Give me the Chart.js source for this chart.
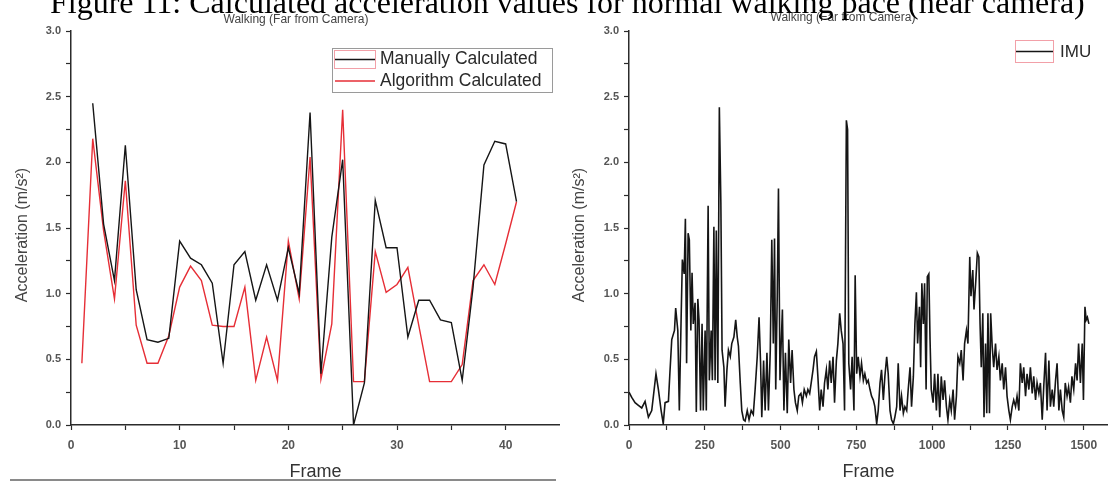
<!DOCTYPE html>
<html><head><meta charset="utf-8">
<script src="https://cdn.jsdelivr.net/npm/chart.js@4.4.1/dist/chart.umd.min.js"></script>
<style>
html,body{margin:0;padding:0;background:#fff;}
body{width:1108px;height:483px;position:relative;overflow:hidden;}
canvas{position:absolute;top:0;}
#c1{left:0;width:560px;height:483px;}
#c2{left:560px;width:548px;height:483px;}
#cap{left:0;width:1108px;height:24px;z-index:3;pointer-events:none;}
</style></head><body>
<canvas id="c1" width="560" height="483"></canvas>
<canvas id="c2" width="548" height="483"></canvas>
<canvas id="cap" width="1108" height="24"></canvas>
<script>
// ---------- text ----------
const captionText = 'Figure 11: Calculated acceleration values for normal walking pace (near camera)';
const chartTitle = 'Walking (Far from Camera)';
const yTitle = 'Acceleration (m/s\u00B2)';
const xTitle = 'Frame';
const leftLegend = ['Manually Calculated', 'Algorithm Calculated'];
const rightLegend = ['IMU'];

// ---------- left chart data ----------
const frames = [1,2,3,4,5,6,7,8,9,10,11,12,13,14,15,16,17,18,19,20,21,22,23,24,25,26,27,28,29,30,31,32,33,34,35,36,37,38,39,40,41];
const manual = [null,2.45,1.53,1.10,2.13,1.03,0.65,0.63,0.66,1.40,1.27,1.22,1.08,0.47,1.22,1.32,0.95,1.22,0.95,1.35,1.00,2.38,0.39,1.43,2.02,0.00,0.32,1.71,1.35,1.35,0.67,0.95,0.95,0.80,0.78,0.34,1.05,1.98,2.16,2.14,1.70];
const algorithm = [0.47,2.18,1.48,0.96,1.86,0.76,0.47,0.47,0.68,1.05,1.21,1.10,0.76,0.75,0.75,1.05,0.34,0.67,0.34,1.40,0.96,2.04,0.35,0.77,2.40,0.33,0.33,1.32,1.01,1.07,1.20,0.76,0.33,0.33,0.33,0.46,1.10,1.22,1.07,1.38,1.70];
const leftXTicks = [0,5,10,15,20,25,30,35,40];

// ---------- right chart data ----------
const imuFrames = [
0,9,20,31,42,53,64,75,89,97,
106,113,119,130,135,141,150,154,161,166,
172,176,182,186,190,195,199,204,208,212,
218,222,227,231,236,241,245,251,255,261,
265,271,275,280,284,288,293,298,303,307,
313,317,323,328,334,339,346,352,357,361,
367,372,378,383,390,396,403,410,416,423,
429,434,438,444,449,455,460,466,471,476,
480,484,489,493,498,502,506,511,516,522,
527,533,538,544,549,555,560,567,572,578,
585,590,596,601,607,612,618,623,629,634,
640,645,651,656,662,667,673,678,684,689,
695,700,706,711,717,721,725,731,736,742,
746,751,756,762,767,773,778,784,789,795,
800,806,811,817,822,828,833,839,844,850,
855,861,866,872,877,883,888,894,899,905,
910,916,921,927,932,938,943,948,952,958,
962,966,971,975,980,984,989,993,997,1003,
1008,1014,1019,1025,1030,1036,1041,1047,1052,1058,
1063,1069,1074,1080,1085,1091,1096,1102,1107,1113,
1118,1124,1128,1134,1138,1144,1149,1154,1158,1162,
1167,1171,1176,1180,1184,1189,1193,1198,1203,1209,
1214,1220,1225,1231,1236,1242,1247,1253,1258,1264,
1269,1275,1280,1286,1291,1297,1302,1308,1313,1319,
1324,1330,1335,1341,1346,1352,1357,1363,1368,1374,
1379,1385,1390,1396,1401,1407,1412,1418,1423,1429,
1434,1439,1445,1450,1456,1461,1467,1473,1478,1483,
1489,1495,1499,1504,1508,1512,1517];
const imuValues = [
0.25,0.21,0.17,0.15,0.13,0.18,0.06,0.11,0.39,0.27,
0.11,0.01,0.17,0.18,0.40,0.65,0.72,0.89,0.72,0.11,
0.82,1.26,1.15,1.57,0.47,1.46,1.41,0.72,1.16,0.77,
0.93,0.10,0.96,0.80,0.11,0.77,0.11,0.72,0.11,1.67,
0.34,0.72,0.34,1.51,0.34,1.48,0.32,2.42,1.69,0.57,
0.44,0.14,0.42,0.57,0.52,0.62,0.67,0.80,0.67,0.60,
0.32,0.11,0.04,0.03,0.11,0.04,0.11,0.08,0.27,0.52,
0.82,0.47,0.06,0.49,0.11,0.55,0.11,0.57,1.41,0.62,
1.42,0.27,0.98,1.80,0.34,0.62,0.88,0.11,0.55,0.09,
0.65,0.32,0.57,0.27,0.17,0.11,0.22,0.24,0.17,0.27,
0.22,0.27,0.24,0.32,0.42,0.52,0.56,0.37,0.11,0.27,
0.14,0.32,0.42,0.27,0.49,0.32,0.52,0.17,0.49,0.62,
0.85,0.72,0.62,0.11,2.32,2.25,0.47,0.27,0.52,0.11,
1.14,0.39,0.52,0.37,0.47,0.34,0.39,0.32,0.34,0.27,
0.22,0.19,0.14,0.01,0.11,0.32,0.42,0.19,0.37,0.52,
0.39,0.11,0.04,0.01,0.06,0.14,0.47,0.11,0.22,0.09,
0.14,0.11,0.27,0.44,0.14,0.37,0.77,1.01,0.62,0.90,
0.44,1.08,0.77,1.08,0.27,1.13,1.15,0.65,0.27,0.17,
0.39,0.11,0.39,0.06,0.37,0.19,0.34,0.14,0.04,0.19,
0.11,0.27,0.04,0.22,0.52,0.47,0.57,0.34,0.62,0.72,
0.62,1.28,0.98,1.18,0.88,1.10,1.31,1.28,0.77,0.44,
0.85,0.06,0.62,0.09,0.85,0.09,0.85,0.60,0.44,0.62,
0.42,0.52,0.34,0.47,0.27,0.44,0.22,0.11,0.04,0.14,
0.19,0.14,0.22,0.11,0.47,0.32,0.44,0.22,0.39,0.27,
0.44,0.24,0.37,0.19,0.32,0.24,0.32,0.04,0.29,0.55,
0.11,0.49,0.14,0.27,0.14,0.34,0.47,0.11,0.27,0.11,
0.06,0.32,0.22,0.29,0.17,0.37,0.27,0.47,0.34,0.62,
0.32,0.62,0.19,0.90,0.80,0.82,0.77];
const rightXTicks = [0,125,250,375,500,625,750,875,1000,1125,1250,1375,1500];
const yTicks = [0,0.25,0.5,0.75,1,1.25,1.5,1.75,2,2.25,2.5,2.75,3];

// ---------- styling ----------
const SANS = '"Liberation Sans", Arial, sans-serif';
const axisColor = '#2b2b2b';
const tickLabelColor = '#555';
const blackLine = '#151515';
const redLine = '#e62e36';

function pairs(xs, ys){ return xs.map((x,i)=>({x:x, y:ys[i]})); }

function yScale(width){
  return {
    type:'linear', min:0, max:3,
    afterBuildTicks: s => { s.ticks = yTicks.map(v=>({value:v})); },
    ticks:{autoSkip:false, color:tickLabelColor, font:{family:SANS,size:11,weight:'bold'}, padding:5,
      callback:v => (Math.abs(v*2-Math.round(v*2))<1e-9) ? v.toFixed(1) : ''},
    grid:{drawOnChartArea:false, drawTicks:true, tickLength:5, tickColor:axisColor, tickWidth:1.2},
    border:{display:true, color:axisColor, width:1.5},
    title:{display:false},
    afterFit: s => { s.width = width; }
  };
}
function xScale(max, tickList, labelEvery){
  return {
    type:'linear', min:0, max:max,
    afterBuildTicks: s => { s.ticks = tickList.map(v=>({value:v})); },
    ticks:{autoSkip:false, maxRotation:0, color:tickLabelColor, font:{family:SANS,size:12,weight:'bold'}, padding:8,
      callback:v => (v % labelEvery === 0) ? String(v) : ''},
    grid:{drawOnChartArea:false, drawTicks:true, tickLength:5, tickColor:axisColor, tickWidth:1.2},
    border:{display:true, color:axisColor, width:1.5},
    title:{display:true, text:xTitle, color:'#333', font:{family:SANS,size:18}, padding:{top:0,bottom:0}},
    afterFit: s => { s.height = 58; }
  };
}

function drawYTitle(ctx, x, y){
  ctx.save();
  ctx.translate(x, y); ctx.rotate(-Math.PI/2);
  ctx.fillStyle='#444'; ctx.font='16px '+SANS; ctx.textAlign='center'; ctx.textBaseline='middle';
  ctx.fillText(yTitle, 0, 0);
  ctx.restore();
}

function decoPlugin(name, draw){ return {id:name, afterDraw: c => { const ctx=c.ctx; ctx.save(); draw(ctx); ctx.restore(); }}; }

// ---------- left chart ----------
new Chart(document.getElementById('c1'), {
  type:'line',
  data:{datasets:[
    {label:leftLegend[0], data:pairs(frames, manual), borderColor:blackLine, borderWidth:1.4, pointRadius:0, tension:0, spanGaps:false},
    {label:leftLegend[1], data:pairs(frames, algorithm), borderColor:redLine, borderWidth:1.4, pointRadius:0, tension:0}
  ]},
  options:{
    responsive:false, animation:false, devicePixelRatio:1,
    layout:{padding:{left:0,right:0,top:31,bottom:0}},
    plugins:{legend:{display:false}, title:{display:false}, tooltip:{enabled:false}},
    scales:{ x:xScale(45, leftXTicks, 10), y:yScale(71) }
  },
  plugins:[decoPlugin('decoLeft', ctx=>{
    ctx.fillStyle='#444'; ctx.font='12px '+SANS; ctx.textAlign='center'; ctx.textBaseline='middle';
    ctx.fillText(chartTitle, 296, 20);
    drawYTitle(ctx, 23, 235);
    // legend
    ctx.strokeStyle='#9a9a9a'; ctx.lineWidth=1; ctx.strokeRect(332.5,48.5,220,44);
    ctx.strokeStyle='#f2a0a8'; ctx.strokeRect(334.5,50.5,41,18);
    ctx.strokeStyle=blackLine; ctx.lineWidth=1.6; ctx.beginPath(); ctx.moveTo(335,59.5); ctx.lineTo(375,59.5); ctx.stroke();
    ctx.strokeStyle=redLine; ctx.lineWidth=1.6; ctx.beginPath(); ctx.moveTo(335,81); ctx.lineTo(375,81); ctx.stroke();
    ctx.fillStyle='#2a2a2a'; ctx.font='17.5px '+SANS; ctx.textAlign='left';
    ctx.fillText(leftLegend[0], 380, 59);
    ctx.fillText(leftLegend[1], 380, 81.5);
    // page rule under left figure
    ctx.strokeStyle='#8a8a8a'; ctx.lineWidth=2; ctx.beginPath(); ctx.moveTo(10,480); ctx.lineTo(556,480); ctx.stroke();
  })]
});

// ---------- right chart ----------
new Chart(document.getElementById('c2'), {
  type:'line',
  data:{datasets:[
    {label:rightLegend[0], data:pairs(imuFrames, imuValues), borderColor:blackLine, borderWidth:1.6, pointRadius:0, tension:0}
  ]},
  options:{
    responsive:false, animation:false, devicePixelRatio:1,
    layout:{padding:{left:0,right:0,top:31,bottom:0}},
    plugins:{legend:{display:false}, title:{display:false}, tooltip:{enabled:false}},
    scales:{ x:xScale(1580, rightXTicks, 250), y:yScale(69) }
  },
  plugins:[decoPlugin('decoRight', ctx=>{
    ctx.fillStyle='#444'; ctx.font='12px '+SANS; ctx.textAlign='center'; ctx.textBaseline='middle';
    ctx.fillText(chartTitle, 283, 18);
    drawYTitle(ctx, 20, 235);
    ctx.strokeStyle='#f2a0a8'; ctx.lineWidth=1; ctx.strokeRect(455.5,40.5,38,22);
    ctx.strokeStyle=blackLine; ctx.lineWidth=1.6; ctx.beginPath(); ctx.moveTo(456,51.5); ctx.lineTo(493,51.5); ctx.stroke();
    ctx.fillStyle='#2a2a2a'; ctx.font='17px '+SANS; ctx.textAlign='left';
    ctx.fillText(rightLegend[0], 500, 52);
  })]
});

// ---------- caption ----------
(function(){
  const c = document.getElementById('cap'); const ctx = c.getContext('2d');
  ctx.font = '100px "Liberation Serif", "Times New Roman", serif';
  const w = ctx.measureText(captionText).width;
  const size = 100 * 1035 / w;
  ctx.font = size.toFixed(2)+'px "Liberation Serif", "Times New Roman", serif';
  ctx.fillStyle = '#000'; ctx.textBaseline = 'alphabetic'; ctx.textAlign='left';
  ctx.fillText(captionText, 50, 13);
})();
</script>
</body></html>
